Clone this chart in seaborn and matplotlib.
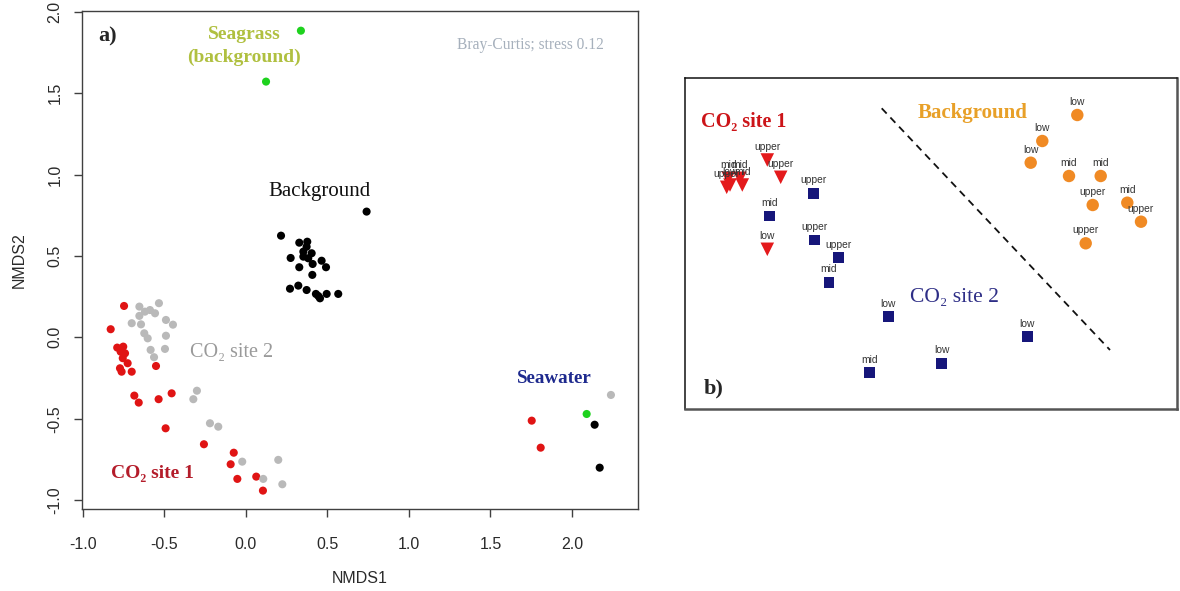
import matplotlib
matplotlib.use("Agg")
import matplotlib.pyplot as plt
import seaborn as sns
import pandas as pd

# ---------------- Panel a data (NMDS1, NMDS2) ----------------
site1_x = [-0.748, -0.830, -0.790, -0.753, -0.769, -0.742, -0.756, -0.726, -0.773, -0.763,
           -0.701, -0.552, -0.685, -0.658, -0.536, -0.456, -0.493, -0.258, -0.075, -0.094,
           -0.053, 0.063, 0.104, 1.753, 1.808]
site1_y = [0.193, 0.050, -0.063, -0.057, -0.088, -0.098, -0.128, -0.159, -0.190, -0.211,
           -0.211, -0.176, -0.358, -0.401, -0.380, -0.344, -0.559, -0.657, -0.709, -0.780,
           -0.870, -0.856, -0.942, -0.512, -0.678]
site2_x = [-0.654, -0.534, -0.589, -0.620, -0.558, -0.654, -0.701, -0.644, -0.491, -0.448,
           -0.624, -0.603, -0.491, -0.585, -0.497, -0.564, -0.301, -0.323, -0.221, -0.170,
           -0.023, 0.198, 0.106, 0.223, 2.239]
site2_y = [0.189, 0.210, 0.168, 0.158, 0.148, 0.132, 0.087, 0.080, 0.107, 0.078,
           0.025, -0.006, 0.010, -0.077, -0.071, -0.122, -0.328, -0.380, -0.528, -0.549,
           -0.764, -0.753, -0.870, -0.903, -0.354]
backg_x = [0.740, 0.215, 0.327, 0.376, 0.372, 0.352, 0.403, 0.274, 0.352, 0.382, 0.464,
           0.409, 0.327, 0.491, 0.407, 0.270, 0.321, 0.372, 0.429, 0.454, 0.495, 0.566,
           0.444, 2.139, 2.170]
backg_y = [0.773, 0.625, 0.582, 0.588, 0.557, 0.527, 0.517, 0.488, 0.496, 0.486, 0.471,
           0.451, 0.431, 0.431, 0.384, 0.299, 0.318, 0.291, 0.267, 0.240, 0.267, 0.267,
           0.254, -0.537, -0.801]
seagr_x = [0.337, 0.123, 2.090]
seagr_y = [1.885, 1.572, -0.471]

groups_a = ["CO2 site 1", "CO2 site 2", "Background", "Seagrass"]
colors_a = {"CO2 site 1": "#e01414", "CO2 site 2": "#b9b9b9",
            "Background": "#000000", "Seagrass": "#1ed21e"}
x_ticks = [-1.0, -0.5, 0.0, 0.5, 1.0, 1.5, 2.0]
y_ticks = [-1.0, -0.5, 0.0, 0.5, 1.0, 1.5, 2.0]

# ---------------- Panel b data (unlabelled ordination) ----------------
b1_x = [0.823, 0.957, 0.433, 0.550, 0.417, 0.450, 0.573, 0.823]
b1_y = [2.490, 2.317, 2.307, 2.307, 2.217, 2.240, 2.240, 1.597]
b1_lab = ["upper", "upper", "mid", "mid", "upper", "low", "mid", "low"]
b2_x = [1.283, 0.843, 1.293, 1.533, 1.440, 2.033, 1.843, 2.567, 3.423]
b2_y = [2.157, 1.930, 1.690, 1.513, 1.267, 0.923, 0.363, 0.457, 0.723]
b2_lab = ["upper", "mid", "upper", "upper", "mid", "low", "mid", "low", "low"]
bb_x = [3.923, 3.573, 3.457, 3.840, 4.157, 4.077, 4.423, 4.560, 4.007]
bb_y = [2.940, 2.680, 2.463, 2.330, 2.330, 2.040, 2.063, 1.873, 1.657]
bb_lab = ["low", "low", "low", "mid", "mid", "upper", "mid", "upper", "upper"]
divider_x = [1.967, 4.250]
divider_y = [3.007, 0.590]

sns.set_style("white")
plt.rcParams["font.family"] = ["Liberation Sans", "DejaVu Sans"]
plt.rcParams["axes.unicode_minus"] = False

fig = plt.figure(figsize=(11.8, 5.91), dpi=100)

# ================= Panel a =================
ax = fig.add_axes([82 / 1180, 1 - 509 / 591, (638 - 82) / 1180, (509 - 11) / 591])
df_a = pd.concat([
    pd.DataFrame({"NMDS1": site1_x, "NMDS2": site1_y, "group": "CO2 site 1"}),
    pd.DataFrame({"NMDS1": site2_x, "NMDS2": site2_y, "group": "CO2 site 2"}),
    pd.DataFrame({"NMDS1": backg_x, "NMDS2": backg_y, "group": "Background"}),
    pd.DataFrame({"NMDS1": seagr_x, "NMDS2": seagr_y, "group": "Seagrass"}),
], ignore_index=True)
sns.scatterplot(data=df_a, x="NMDS1", y="NMDS2", hue="group", hue_order=groups_a,
                palette=colors_a, s=34, edgecolor="none", legend=False, ax=ax)
ax.set_xlim(-1.006, 2.405)
ax.set_ylim(-1.055, 2.006)
ax.set_xticks(x_ticks)
ax.set_xticklabels([f"{v:.1f}" for v in x_ticks])
ax.set_yticks(y_ticks)
ax.set_yticklabels([f"{v:.1f}" for v in y_ticks], rotation=90, va="center")
ax.tick_params(axis="both", direction="out", length=6, width=1, color="#404040",
               labelsize=11.5, labelcolor="#2a2a2a")
ax.tick_params(axis="x", pad=14)
ax.tick_params(axis="y", pad=8)
ax.tick_params(bottom=True, left=True)
for sp in ax.spines.values():
    sp.set_color("#404040")
    sp.set_linewidth(1.0)
ax.set_xlabel("NMDS1", fontsize=11.5, color="#2a2a2a", labelpad=14)
ax.set_ylabel("NMDS2", fontsize=11.5, color="#2a2a2a", labelpad=15)

serif = ["Liberation Serif", "DejaVu Serif"]
ax.text(-0.847, 1.852, "a)", fontsize=16, fontweight="bold", family=serif,
        ha="center", va="center")
ax.text(-0.012, 1.79, "Seagrass\n(background)", fontsize=14, fontweight="bold",
        family=serif, color="#b0c040", ha="center", va="center", linespacing=1.4)
ax.text(1.748, 1.797, "Bray-Curtis; stress 0.12", fontsize=11.2, family=serif,
        color="#a6b0bc", ha="center", va="center")
ax.text(0.448, 0.894, "Background", fontsize=15, family=serif, color="#111111",
        ha="center", va="center")
ax.text(-0.089, -0.09, "CO\u2082 site 2", fontsize=14.5, family=serif, color="#9a9a9a",
        ha="center", va="center")
ax.text(-0.571, -0.835, "CO\u2082 site 1", fontsize=14, fontweight="bold", family=serif,
        color="#b41c2a", ha="center", va="center")
ax.text(1.893, -0.25, "Seawater", fontsize=13.7, fontweight="bold", family=serif,
        color="#1e2a8e", ha="center", va="center")

# ================= Panel b =================
bx = fig.add_axes([685 / 1180, 1 - 409 / 591, (1177 - 685) / 1180, (409 - 78) / 591])
df_b1 = pd.DataFrame({"x": b1_x, "y": b1_y})
df_b2 = pd.DataFrame({"x": b2_x, "y": b2_y})
df_bb = pd.DataFrame({"x": bb_x, "y": bb_y})
sns.scatterplot(data=df_b1, x="x", y="y", marker="v", s=95, color="#e41a1c",
                edgecolor="none", ax=bx)
sns.scatterplot(data=df_b2, x="x", y="y", marker="s", s=60, color="#16167a",
                edgecolor="none", ax=bx)
sns.scatterplot(data=df_bb, x="x", y="y", marker="o", s=80, color="#f08a24",
                edgecolor="none", ax=bx)
for xs, ys, labs in [(b1_x, b1_y, b1_lab), (b2_x, b2_y, b2_lab), (bb_x, bb_y, bb_lab)]:
    for xv, yv, lab in zip(xs, ys, labs):
        bx.text(xv, yv + 0.13, lab, fontsize=7.4, color="#333333",
                ha="center", va="center")
sns.lineplot(x=divider_x, y=divider_y, color="#111111", linestyle=(0, (4, 3)),
             linewidth=1.3, ax=bx)
bx.set_xlim(0, 4.92)
bx.set_ylim(0, 3.31)
bx.set_xticks([])
bx.set_yticks([])
bx.set_xlabel("")
bx.set_ylabel("")
for name, sp in bx.spines.items():
    sp.set_color("#111111" if name in ("left", "top") else "#555555")
    sp.set_linewidth(1.1 if name in ("left", "top") else 1.8)

bx.text(0.59, 2.87, "CO\u2082 site 1", fontsize=14.5, fontweight="bold", family=serif,
        color="#cc1418", ha="center", va="center")
bx.text(2.875, 2.96, "Background", fontsize=15, fontweight="bold", family=serif,
        color="#e8a028", ha="center", va="center")
bx.text(2.69, 1.11, "CO\u2082 site 2", fontsize=15.5, family=serif,
        color="#2e2e86", ha="center", va="center")
bx.text(0.29, 0.21, "b)", fontsize=16, fontweight="bold", family=serif,
        ha="center", va="center")

fig.savefig("out.png", dpi=100)
